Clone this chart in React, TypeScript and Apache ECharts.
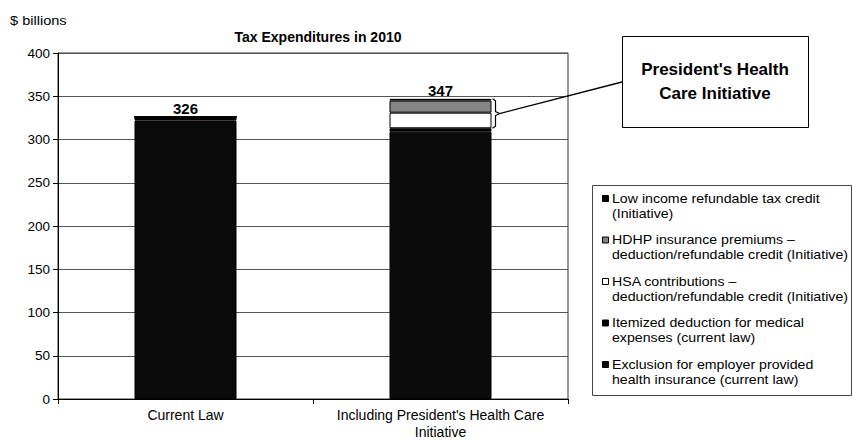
import React, { useEffect, useRef } from "react";
import * as echarts from "echarts";

const categories = ["Current Law", "Including President's Health Care\nInitiative"];
const exclusion = [322, 309];
const itemized = [4, 4];
const hsa = [0, 18];
const hdhp = [0, 14];
const lowIncome = [0, 2];
const totals = [326, 347];

const seriesNames = [
  "Exclusion for employer provided\nhealth insurance (current law)",
  "Itemized deduction for medical\nexpenses (current law)",
  "HSA contributions –\ndeduction/refundable credit (Initiative)",
  "HDHP insurance premiums –\ndeduction/refundable credit (Initiative)",
  "Low income refundable tax credit\n(Initiative)",
];
const seriesValues = [exclusion, itemized, hsa, hdhp, lowIncome];
const seriesColors = ["#0a0a0a", "#000000", "#ffffff", "#858585", "#000000"];

const yMin = 0;
const yMax = 400;
const yInterval = 50;

const chartTitle = "Tax Expenditures in 2010";
const yUnit = "$ billions";
const calloutText = "President's Health\nCare Initiative";

const FONT = "'Liberation Sans', Arial, Helvetica, sans-serif";

export default function App() {
  const ref = useRef<HTMLDivElement>(null);

  useEffect(() => {
    document.body.style.margin = "0";
    const el = ref.current;
    if (!el) return;
    const chart = echarts.init(el, null, { renderer: "svg" });

    const stackSeries = seriesNames.map((name, i) => ({
      name,
      type: "bar",
      stack: "total",
      barWidth: "40%",
      data: seriesValues[i],
      itemStyle: { color: seriesColors[i], borderColor: "#000", borderWidth: 1 },
      emphasis: { disabled: true },
    }));

    const option: any = {
      animation: false,
      textStyle: { fontFamily: FONT },
      title: {
        text: chartTitle,
        left: 313,
        textAlign: "center",
        top: 25,
        textStyle: { fontSize: 14, fontWeight: "bold", color: "#000", fontFamily: FONT },
      },
      grid: {
        left: 58,
        right: 284,
        top: 53,
        bottom: 38,
        show: true,
        borderColor: "#333",
        borderWidth: 1,
        backgroundColor: "#fff",
      },
      xAxis: {
        type: "category",
        data: categories,
        axisLine: { lineStyle: { color: "#000", width: 1 } },
        axisTick: { show: true, length: 5, lineStyle: { color: "#000" } },
        axisLabel: {
          color: "#000",
          fontSize: 14,
          lineHeight: 17,
          margin: 7,
          interval: 0,
          hideOverlap: false,
          fontFamily: FONT,
        },
      },
      yAxis: {
        type: "value",
        min: yMin,
        max: yMax,
        interval: yInterval,
        axisLine: { show: true, lineStyle: { color: "#000", width: 1 } },
        axisTick: { show: true, length: 5, lineStyle: { color: "#000" } },
        axisLabel: { color: "#000", fontSize: 13.5, margin: 8, fontFamily: FONT },
        splitLine: { show: true, lineStyle: { color: "#555", width: 1 } },
      },
      series: [
        ...stackSeries,
        {
          name: "Total",
          type: "bar",
          barWidth: "40%",
          barGap: "-100%",
          data: totals,
          silent: true,
          itemStyle: { color: "transparent" },
          label: {
            show: true,
            position: "top",
            distance: 1,
            color: "#000",
            fontSize: 15,
            fontWeight: "bold",
            fontFamily: FONT,
          },
          z: 1,
        },
      ],
    };
    chart.setOption(option);

    // Positions computed from the chart's own scales
    const p0 = chart.convertToPixel({ gridIndex: 0 }, [0, 0]) as number[];
    const p1 = chart.convertToPixel({ gridIndex: 0 }, [1, totals[1]]) as number[];
    const band = p1[0] - p0[0];
    const barRight = p1[0] + (band * 0.4) / 2;
    const initiativeBase = exclusion[1] + itemized[1];
    const braceTop = p1[1];
    const braceBot = (chart.convertToPixel({ gridIndex: 0 }, [1, initiativeBase]) as number[])[1];
    const braceMid = (braceTop + braceBot) / 2;
    const bx = barRight + 1;

    const boxX = 622;
    const boxY = 36;
    const boxW = 186;
    const boxH = 91;

    const legendX = 592;
    const legendY = 185;
    const legendW = 259;
    const legendH = 210;
    const itemStep = 41.5;

    const legendOrder = [4, 3, 2, 1, 0];
    const legendEls: any[] = [];
    legendOrder.forEach((si, k) => {
      const y0 = 199 + k * itemStep;
      legendEls.push({
        type: "rect",
        shape: { x: 602.5, y: y0 - 3.5, width: 6, height: 6 },
        style: { fill: seriesColors[si], stroke: "#000", lineWidth: 1 },
      });
      legendEls.push({
        type: "text",
        x: 612,
        y: y0 - 8,
        scaleX: 1.09,
        style: {
          text: seriesNames[si],
          fontSize: 13,
          lineHeight: 15,
          fill: "#000",
          fontFamily: FONT,
          verticalAlign: "top",
        },
      });
    });

    chart.setOption({
      graphic: [
        {
          type: "text",
          x: 10,
          y: 14,
          scaleX: 1.12,
          style: { text: yUnit, fontSize: 13, fill: "#000", fontFamily: FONT },
        },
        {
          type: "polyline",
          shape: {
            points: [
              [bx, braceTop],
              [bx + 3, braceTop + 2],
              [bx + 3, braceMid - 2],
              [bx + 7, braceMid],
              [bx + 3, braceMid + 2],
              [bx + 3, braceBot - 2],
              [bx, braceBot],
            ],
          },
          style: { stroke: "#000", lineWidth: 1.2, fill: null },
        },
        {
          type: "line",
          shape: { x1: bx + 7, y1: braceMid, x2: boxX, y2: boxY + 46 },
          style: { stroke: "#000", lineWidth: 1.3 },
        },
        {
          type: "rect",
          shape: { x: boxX + 0.5, y: boxY + 0.5, width: boxW, height: boxH },
          style: { fill: "#fff", stroke: "#000", lineWidth: 1 },
        },
        {
          type: "text",
          x: boxX + boxW / 2,
          y: boxY + boxH / 2,
          style: {
            text: calloutText,
            fontSize: 17,
            fontWeight: "bold",
            lineHeight: 24,
            fill: "#000",
            align: "center",
            verticalAlign: "middle",
            fontFamily: FONT,
          },
        },
        {
          type: "rect",
          shape: { x: legendX + 0.5, y: legendY + 0.5, width: legendW, height: legendH },
          style: { fill: "#fff", stroke: "#444", lineWidth: 1 },
        },
        ...legendEls,
      ],
    });

    return () => chart.dispose();
  }, []);

  return (
    <div
      ref={ref}
      style={{ position: "fixed", left: 0, top: 0, width: 852, height: 440, background: "#fff" }}
    />
  );
}
